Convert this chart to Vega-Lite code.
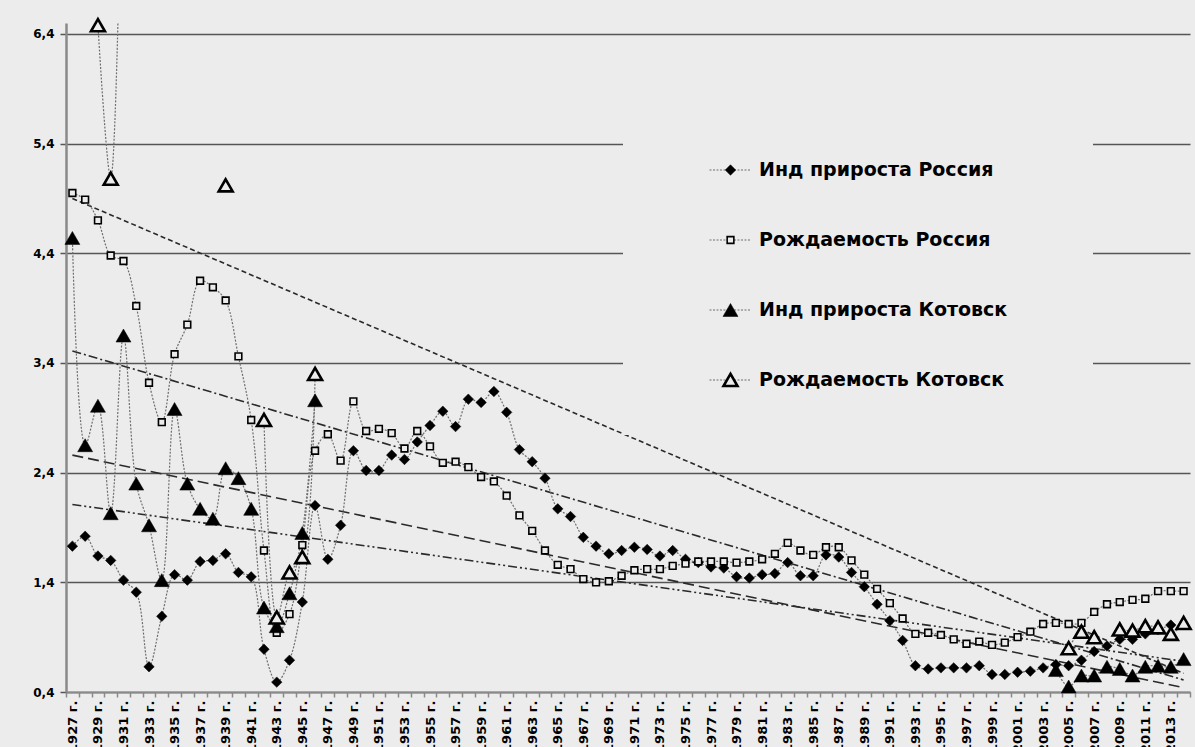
{
  "$schema": "https://vega.github.io/schema/vega-lite/v6.json",
  "width": 1124,
  "height": 669,
  "autosize": {"type": "none"},
  "padding": {"left": 66, "top": 23, "right": 5, "bottom": 55},
  "background": "#ececec",
  "config": {"view": {"stroke": null, "fill": "#ececec"}, "font": "DejaVu Sans"},
  "datasets": {
    "series": [
      {"year": 1927, "ir": 1.73, "br": 4.95, "ik": 4.54},
      {"year": 1928, "ir": 1.82, "br": 4.89, "ik": 2.65},
      {"year": 1929, "ir": 1.64, "br": 4.70, "ik": 3.01, "bk": 6.48},
      {"year": 1930, "ir": 1.60, "br": 4.38, "ik": 2.03, "bk": 5.08},
      {"year": 1931, "ir": 1.42, "br": 4.33, "ik": 3.65, "bk": 9.0},
      {"year": 1932, "ir": 1.31, "br": 3.92, "ik": 2.30},
      {"year": 1933, "ir": 0.63, "br": 3.22, "ik": 1.92},
      {"year": 1934, "ir": 1.09, "br": 2.86, "ik": 1.42},
      {"year": 1935, "ir": 1.47, "br": 3.48, "ik": 2.98},
      {"year": 1936, "ir": 1.42, "br": 3.75, "ik": 2.30},
      {"year": 1937, "ir": 1.59, "br": 4.15, "ik": 2.07},
      {"year": 1938, "ir": 1.60, "br": 4.09, "ik": 1.98},
      {"year": 1939, "ir": 1.66, "br": 3.97, "ik": 2.44, "bk": 5.02},
      {"year": 1940, "ir": 1.49, "br": 3.46, "ik": 2.35},
      {"year": 1941, "ir": 1.45, "br": 2.88, "ik": 2.07},
      {"year": 1942, "ir": 0.79, "br": 1.69, "ik": 1.17, "bk": 2.88},
      {"year": 1943, "ir": 0.49, "br": 0.94, "ik": 1.00, "bk": 1.08},
      {"year": 1944, "ir": 0.69, "br": 1.11, "ik": 1.30, "bk": 1.49},
      {"year": 1945, "ir": 1.22, "br": 1.74, "ik": 1.85, "bk": 1.63},
      {"year": 1946, "ir": 2.10, "br": 2.60, "ik": 3.06, "bk": 3.30},
      {"year": 1947, "ir": 1.61, "br": 2.75},
      {"year": 1948, "ir": 1.92, "br": 2.51},
      {"year": 1949, "ir": 2.60, "br": 3.05},
      {"year": 1950, "ir": 2.42, "br": 2.78},
      {"year": 1951, "ir": 2.42, "br": 2.80},
      {"year": 1952, "ir": 2.56, "br": 2.76},
      {"year": 1953, "ir": 2.52, "br": 2.62},
      {"year": 1954, "ir": 2.68, "br": 2.78},
      {"year": 1955, "ir": 2.83, "br": 2.64},
      {"year": 1956, "ir": 2.96, "br": 2.49},
      {"year": 1957, "ir": 2.82, "br": 2.50},
      {"year": 1958, "ir": 3.07, "br": 2.45},
      {"year": 1959, "ir": 3.04, "br": 2.36},
      {"year": 1960, "ir": 3.14, "br": 2.32},
      {"year": 1961, "ir": 2.95, "br": 2.19},
      {"year": 1962, "ir": 2.61, "br": 2.01},
      {"year": 1963, "ir": 2.50, "br": 1.87},
      {"year": 1964, "ir": 2.35, "br": 1.69},
      {"year": 1965, "ir": 2.07, "br": 1.56},
      {"year": 1966, "ir": 2.00, "br": 1.52},
      {"year": 1967, "ir": 1.81, "br": 1.43},
      {"year": 1968, "ir": 1.73, "br": 1.40},
      {"year": 1969, "ir": 1.66, "br": 1.41},
      {"year": 1970, "ir": 1.69, "br": 1.46},
      {"year": 1971, "ir": 1.72, "br": 1.51},
      {"year": 1972, "ir": 1.70, "br": 1.52},
      {"year": 1973, "ir": 1.64, "br": 1.52},
      {"year": 1974, "ir": 1.69, "br": 1.55},
      {"year": 1975, "ir": 1.61, "br": 1.57},
      {"year": 1976, "ir": 1.58, "br": 1.59},
      {"year": 1977, "ir": 1.54, "br": 1.59},
      {"year": 1978, "ir": 1.53, "br": 1.59},
      {"year": 1979, "ir": 1.45, "br": 1.58},
      {"year": 1980, "ir": 1.44, "br": 1.59},
      {"year": 1981, "ir": 1.47, "br": 1.61},
      {"year": 1982, "ir": 1.48, "br": 1.66},
      {"year": 1983, "ir": 1.58, "br": 1.76},
      {"year": 1984, "ir": 1.46, "br": 1.69},
      {"year": 1985, "ir": 1.46, "br": 1.65},
      {"year": 1986, "ir": 1.65, "br": 1.72},
      {"year": 1987, "ir": 1.63, "br": 1.72},
      {"year": 1988, "ir": 1.49, "br": 1.60},
      {"year": 1989, "ir": 1.36, "br": 1.47},
      {"year": 1990, "ir": 1.20, "br": 1.34},
      {"year": 1991, "ir": 1.05, "br": 1.21},
      {"year": 1992, "ir": 0.87, "br": 1.07},
      {"year": 1993, "ir": 0.64, "br": 0.93},
      {"year": 1994, "ir": 0.61, "br": 0.94},
      {"year": 1995, "ir": 0.62, "br": 0.92},
      {"year": 1996, "ir": 0.62, "br": 0.88},
      {"year": 1997, "ir": 0.62, "br": 0.84},
      {"year": 1998, "ir": 0.64, "br": 0.86},
      {"year": 1999, "ir": 0.56, "br": 0.83},
      {"year": 2000, "ir": 0.56, "br": 0.85},
      {"year": 2001, "ir": 0.58, "br": 0.90},
      {"year": 2002, "ir": 0.59, "br": 0.95},
      {"year": 2003, "ir": 0.62, "br": 1.02},
      {"year": 2004, "ir": 0.65, "br": 1.03, "ik": 0.60},
      {"year": 2005, "ir": 0.64, "br": 1.02, "ik": 0.45, "bk": 0.80},
      {"year": 2006, "ir": 0.69, "br": 1.03, "ik": 0.55, "bk": 0.95},
      {"year": 2007, "ir": 0.77, "br": 1.13, "ik": 0.55, "bk": 0.90},
      {"year": 2008, "ir": 0.82, "br": 1.20, "ik": 0.63},
      {"year": 2009, "ir": 0.88, "br": 1.22, "ik": 0.61, "bk": 0.97},
      {"year": 2010, "ir": 0.88, "br": 1.24, "ik": 0.55, "bk": 0.96},
      {"year": 2011, "ir": 0.93, "br": 1.25, "ik": 0.63, "bk": 1.00},
      {"year": 2012, "ir": 0.97, "br": 1.32, "ik": 0.64, "bk": 0.99},
      {"year": 2013, "ir": 1.01, "br": 1.32, "ik": 0.63, "bk": 0.93},
      {"year": 2014, "br": 1.32, "ik": 0.70, "bk": 1.03}
    ],
    "trends": [
      {"trend": "A", "year": 1927, "value": 4.90},
      {"trend": "A", "year": 2014, "value": 0.57},
      {"trend": "B", "year": 1927, "value": 3.51},
      {"trend": "B", "year": 2014, "value": 0.51},
      {"trend": "C", "year": 1927, "value": 2.56},
      {"trend": "C", "year": 2014, "value": 0.44},
      {"trend": "D", "year": 1927, "value": 2.11},
      {"trend": "D", "year": 2014, "value": 0.68}
    ]
  },
  "encoding": {
    "x": {
      "field": "year",
      "type": "ordinal",
      "scale": {"type": "band", "paddingInner": 0, "paddingOuter": 0},
      "axis": {
        "title": null,
        "tickBand": "extent",
        "labelAngle": 270,
        "labelExpr": "datum.value % 2 == 1 ? datum.value + ' г.' : ''",
        "labelFont": "DejaVu Sans",
        "labelFontWeight": "bold",
        "labelFontSize": 13,
        "labelColor": "#000000",
        "labelPadding": 3,
        "labelOverlap": false,
        "domainColor": "#8a8a8a",
        "domainWidth": 2,
        "tickColor": "#8a8a8a",
        "tickWidth": 1.5,
        "tickSize": 5,
        "grid": false
      }
    },
    "y": {
      "field": "value",
      "type": "quantitative",
      "scale": {"domain": [0.4, 6.5], "nice": false, "zero": false},
      "axis": {
        "title": null,
        "values": [0.4, 1.4, 2.4, 3.4, 4.4, 5.4, 6.4],
        "labelExpr": "replace(format(datum.value, '.1f'), '.', ',')",
        "labelFont": "DejaVu Sans",
        "labelFontWeight": "bold",
        "labelFontSize": 12,
        "labelColor": "#000000",
        "labelPadding": 6,
        "grid": true,
        "gridColor": "#555555",
        "gridWidth": 1.5,
        "domainColor": "#8a8a8a",
        "domainWidth": 2.5,
        "tickColor": "#555555",
        "tickWidth": 1.5,
        "tickSize": 6
      }
    }
  },
  "layer": [
    {
      "data": {"name": "trends"},
      "mark": {"type": "line", "color": "#2a2a2a", "strokeWidth": 1.6},
      "encoding": {
        "strokeDash": {
          "field": "trend",
          "type": "nominal",
          "scale": {"domain": ["A", "B", "C", "D"], "range": [[5, 3], [9, 3, 2, 3], [11, 5], [9, 3, 2, 3, 2, 3]]},
          "legend": null
        }
      }
    },
    {
      "data": {"name": "series"},
      "transform": [{"fold": ["ir", "br", "ik", "bk"], "as": ["series", "value"]}],
      "mark": {"type": "line", "interpolate": "catmull-rom", "strokeWidth": 1.2, "strokeDash": [2, 1.5], "clip": true, "invalid": "break-paths-filter-domains"},
      "encoding": {
        "stroke": {
          "field": "series",
          "type": "nominal",
          "scale": {"range": ["#6e6e6e", "#6e6e6e", "#6e6e6e", "#6e6e6e"]},
          "legend": {
            "orient": "none",
            "legendX": 557,
            "legendY": 93,
            "title": null,
            "padding": 45,
            "fillColor": "#ececec",
            "symbolType": "stroke",
            "symbolSize": 1681,
            "symbolStrokeWidth": 1,
            "symbolDash": [2, 1.5],
            "symbolOffset": 41,
            "clipHeight": 18,
            "rowPadding": 51,
            "labelOffset": 48,
            "labelLimit": 500,
            "labelOpacity": 0,
            "labelFont": "DejaVu Sans",
            "labelFontSize": 19,
            "labelFontWeight": "bold",
            "labelExpr": "{'ir':'Инд прироста Россия','br':'Рождаемость Россия','ik':'Инд прироста Котовск','bk':'Рождаемость Котовск'}[datum.value] + '      '"
          }
        }
      }
    },
    {
      "data": {"name": "series"},
      "transform": [{"fold": ["ir", "br", "ik", "bk"], "as": ["series", "value"]}],
      "mark": {"type": "point", "filled": true, "opacity": 1, "stroke": "#000000"},
      "encoding": {
        "shape": {
          "field": "series",
          "type": "nominal",
          "scale": {"domain": ["ir", "br", "ik", "bk"], "range": ["diamond", "square", "triangle-up", "triangle-up"]},
          "legend": {
            "orient": "none",
            "legendX": 655,
            "legendY": 138,
            "title": null,
            "padding": 0,
            "clipHeight": 18,
            "rowPadding": 51,
            "labelOffset": 19,
            "labelLimit": 500,
            "labelColor": "#000000",
            "labelFont": "DejaVu Sans",
            "labelFontSize": 19,
            "labelFontWeight": "bold",
            "symbolStrokeColor": "#000000",
            "labelExpr": "{'ir':'Инд прироста Россия','br':'Рождаемость Россия','ik':'Инд прироста Котовск','bk':'Рождаемость Котовск'}[datum.value]"
          }
        },
        "fill": {
          "field": "series",
          "type": "nominal",
          "scale": {"domain": ["ir", "br", "ik", "bk"], "range": ["#000000", "#ececec", "#000000", "#ececec"]}
        },
        "size": {
          "field": "series",
          "type": "nominal",
          "scale": {"type": "ordinal", "domain": ["ir", "br", "ik", "bk"], "range": [110, 45, 225, 195]}
        },
        "strokeWidth": {
          "field": "series",
          "type": "nominal",
          "scale": {"type": "ordinal", "domain": ["ir", "br", "ik", "bk"], "range": [0.5, 1.6, 0.5, 2.6]}
        }
      }
    }
  ]
}
